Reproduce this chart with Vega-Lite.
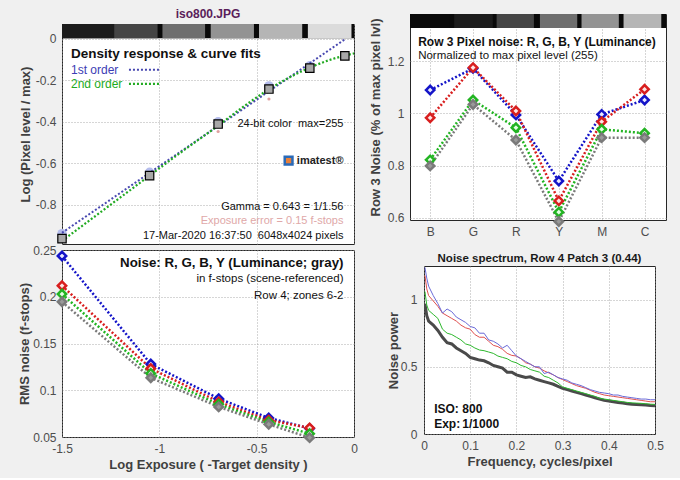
{
  "$schema": "https://vega.github.io/schema/vega-lite/v6.json",
  "background": "#f0f0f0",
  "padding": {"left": 18, "top": 7, "right": 14, "bottom": 6},
  "config": {
    "font": "Liberation Sans",
    "view": {"fill": "white", "stroke": "#262626", "strokeWidth": 1},
    "axis": {"domain": false, "ticks": false, "labelFont": "Liberation Sans", "labelFontSize": 12, "labelColor": "#4d4d4d", "labelPadding": 6, "labelFlush": false, "labelOverlap": false, "titleFont": "Liberation Sans", "titleFontSize": 13, "titleFontWeight": "bold", "titleColor": "#404040", "grid": true, "gridColor": "#9a9a9a", "gridDash": [1, 2], "gridOpacity": 0.8},
    "title": {"font": "Liberation Sans", "fontWeight": "bold", "fontSize": 12, "color": "#1a1a1a"},
    "text": {"font": "Liberation Sans"}
  },
  "datasets": {
    "strip": [
      {"x": -1.5, "x2": 0, "y": 0.003, "y2": 0.072, "p": "bg"},
      {"x": -1.5, "x2": -1.232, "y": 0.003, "y2": 0.072, "p": "p1"},
      {"x": -1.232, "x2": -1.009, "y": 0.003, "y2": 0.072, "p": "p2"},
      {"x": -0.984, "x2": -0.765, "y": 0.003, "y2": 0.072, "p": "p3"},
      {"x": -0.736, "x2": -0.514, "y": 0.003, "y2": 0.072, "p": "p4"},
      {"x": -0.488, "x2": -0.266, "y": 0.003, "y2": 0.072, "p": "p5"},
      {"x": -0.237, "x2": -0.013, "y": 0.003, "y2": 0.072, "p": "p6"}
    ],
    "squares": [
      {"x": -1.5, "y": -0.964}, {"x": -1.05, "y": -0.66}, {"x": -0.698, "y": -0.411},
      {"x": -0.437, "y": -0.242}, {"x": -0.227, "y": -0.141}, {"x": -0.047, "y": -0.082}
    ],
    "circles": [
      {"x": -1.5, "y": -0.94}, {"x": -1.05, "y": -0.644}, {"x": -0.698, "y": -0.4},
      {"x": -0.437, "y": -0.227}, {"x": -0.227, "y": -0.13}
    ],
    "pinks": [{"x": -0.698, "y": -0.447}, {"x": -0.437, "y": -0.29}],
    "fit1": [{"x": -1.5, "y": -0.936}, {"x": -0.044, "y": 0.0}],
    "fit2": [
      {"x": -1.5, "y": -0.975}, {"x": -1.3, "y": -0.835}, {"x": -1.1, "y": -0.695}, {"x": -0.9, "y": -0.555},
      {"x": -0.7, "y": -0.42}, {"x": -0.55, "y": -0.315}, {"x": -0.44, "y": -0.245}, {"x": -0.33, "y": -0.185},
      {"x": -0.23, "y": -0.14}, {"x": -0.12, "y": -0.1}, {"x": 0, "y": -0.07}
    ],
    "bl": [
      {"ch": "B", "x": -1.5, "v": 0.2436}, {"ch": "B", "x": -1.044, "v": 0.128}, {"ch": "B", "x": -0.695, "v": 0.091}, {"ch": "B", "x": -0.438, "v": 0.0704}, {"ch": "B", "x": -0.228, "v": 0.059},
      {"ch": "R", "x": -1.5, "v": 0.2118}, {"ch": "R", "x": -1.044, "v": 0.1233}, {"ch": "R", "x": -0.695, "v": 0.0876}, {"ch": "R", "x": -0.438, "v": 0.068}, {"ch": "R", "x": -0.228, "v": 0.0597},
      {"ch": "G", "x": -1.5, "v": 0.2029}, {"ch": "G", "x": -1.044, "v": 0.118}, {"ch": "G", "x": -0.695, "v": 0.085}, {"ch": "G", "x": -0.438, "v": 0.066}, {"ch": "G", "x": -0.228, "v": 0.0536},
      {"ch": "Y", "x": -1.5, "v": 0.1946}, {"ch": "Y", "x": -1.044, "v": 0.1133}, {"ch": "Y", "x": -0.695, "v": 0.0822}, {"ch": "Y", "x": -0.438, "v": 0.0636}, {"ch": "Y", "x": -0.228, "v": 0.0493}
    ],
    "tr": [
      {"ch": "B", "i": 1, "v": 1.089}, {"ch": "B", "i": 2, "v": 1.172}, {"ch": "B", "i": 3, "v": 0.994}, {"ch": "B", "i": 4, "v": 0.741}, {"ch": "B", "i": 5, "v": 0.996}, {"ch": "B", "i": 6, "v": 1.051},
      {"ch": "R", "i": 1, "v": 0.983}, {"ch": "R", "i": 2, "v": 1.175}, {"ch": "R", "i": 3, "v": 1.009}, {"ch": "R", "i": 4, "v": 0.665}, {"ch": "R", "i": 5, "v": 0.968}, {"ch": "R", "i": 6, "v": 1.092},
      {"ch": "G", "i": 1, "v": 0.822}, {"ch": "G", "i": 2, "v": 1.051}, {"ch": "G", "i": 3, "v": 0.945}, {"ch": "G", "i": 4, "v": 0.622}, {"ch": "G", "i": 5, "v": 0.939}, {"ch": "G", "i": 6, "v": 0.924},
      {"ch": "Y", "i": 1, "v": 0.799}, {"ch": "Y", "i": 2, "v": 1.034}, {"ch": "Y", "i": 3, "v": 0.898}, {"ch": "Y", "i": 4, "v": 0.586}, {"ch": "Y", "i": 5, "v": 0.907}, {"ch": "Y", "i": 6, "v": 0.907}
    ],
    "trstrip": [
      {"i": 0.53, "i2": 6.5, "v": 1.326, "v2": 1.38, "p": "bg"},
      {"i": 0.55, "i2": 1.45, "v": 1.326, "v2": 1.38, "p": "B"}, {"i": 1.56, "i2": 2.46, "v": 1.326, "v2": 1.38, "p": "G"}, {"i": 2.55, "i2": 3.42, "v": 1.326, "v2": 1.38, "p": "R"},
      {"i": 3.56, "i2": 4.43, "v": 1.326, "v2": 1.38, "p": "Y"}, {"i": 4.53, "i2": 5.4, "v": 1.326, "v2": 1.38, "p": "M"}, {"i": 5.51, "i2": 6.39, "v": 1.326, "v2": 1.38, "p": "C"}
    ],
    "spec": [
      {"s": "K", "f": 0.002, "p": 0.97}, {"s": "K", "f": 0.006, "p": 0.88}, {"s": "K", "f": 0.01, "p": 0.84}, {"s": "K", "f": 0.02, "p": 0.81}, {"s": "K", "f": 0.03, "p": 0.77}, {"s": "K", "f": 0.04, "p": 0.72}, {"s": "K", "f": 0.05, "p": 0.68}, {"s": "K", "f": 0.06, "p": 0.67}, {"s": "K", "f": 0.07, "p": 0.64}, {"s": "K", "f": 0.08, "p": 0.62}, {"s": "K", "f": 0.09, "p": 0.6}, {"s": "K", "f": 0.1, "p": 0.57}, {"s": "K", "f": 0.11, "p": 0.56}, {"s": "K", "f": 0.12, "p": 0.55}, {"s": "K", "f": 0.13, "p": 0.545}, {"s": "K", "f": 0.14, "p": 0.53}, {"s": "K", "f": 0.15, "p": 0.51}, {"s": "K", "f": 0.16, "p": 0.5}, {"s": "K", "f": 0.17, "p": 0.49}, {"s": "K", "f": 0.18, "p": 0.46}, {"s": "K", "f": 0.19, "p": 0.46}, {"s": "K", "f": 0.2, "p": 0.44}, {"s": "K", "f": 0.21, "p": 0.43}, {"s": "K", "f": 0.22, "p": 0.42}, {"s": "K", "f": 0.23, "p": 0.425}, {"s": "K", "f": 0.24, "p": 0.41}, {"s": "K", "f": 0.25, "p": 0.4}, {"s": "K", "f": 0.26, "p": 0.39}, {"s": "K", "f": 0.27, "p": 0.38}, {"s": "K", "f": 0.28, "p": 0.37}, {"s": "K", "f": 0.29, "p": 0.355}, {"s": "K", "f": 0.3, "p": 0.34}, {"s": "K", "f": 0.31, "p": 0.33}, {"s": "K", "f": 0.32, "p": 0.32}, {"s": "K", "f": 0.33, "p": 0.31}, {"s": "K", "f": 0.34, "p": 0.3}, {"s": "K", "f": 0.35, "p": 0.29}, {"s": "K", "f": 0.36, "p": 0.28}, {"s": "K", "f": 0.37, "p": 0.27}, {"s": "K", "f": 0.38, "p": 0.26}, {"s": "K", "f": 0.39, "p": 0.25}, {"s": "K", "f": 0.4, "p": 0.245}, {"s": "K", "f": 0.41, "p": 0.24}, {"s": "K", "f": 0.42, "p": 0.235}, {"s": "K", "f": 0.43, "p": 0.23}, {"s": "K", "f": 0.44, "p": 0.225}, {"s": "K", "f": 0.45, "p": 0.222}, {"s": "K", "f": 0.46, "p": 0.22}, {"s": "K", "f": 0.47, "p": 0.218}, {"s": "K", "f": 0.48, "p": 0.215}, {"s": "K", "f": 0.49, "p": 0.212}, {"s": "K", "f": 0.5, "p": 0.21},
      {"s": "G", "f": 0.002, "p": 1.06}, {"s": "G", "f": 0.006, "p": 0.96}, {"s": "G", "f": 0.01, "p": 0.92}, {"s": "G", "f": 0.02, "p": 0.89}, {"s": "G", "f": 0.03, "p": 0.86}, {"s": "G", "f": 0.04, "p": 0.78}, {"s": "G", "f": 0.05, "p": 0.75}, {"s": "G", "f": 0.06, "p": 0.74}, {"s": "G", "f": 0.07, "p": 0.72}, {"s": "G", "f": 0.08, "p": 0.7}, {"s": "G", "f": 0.09, "p": 0.67}, {"s": "G", "f": 0.1, "p": 0.66}, {"s": "G", "f": 0.11, "p": 0.64}, {"s": "G", "f": 0.12, "p": 0.625}, {"s": "G", "f": 0.13, "p": 0.62}, {"s": "G", "f": 0.14, "p": 0.61}, {"s": "G", "f": 0.15, "p": 0.6}, {"s": "G", "f": 0.16, "p": 0.58}, {"s": "G", "f": 0.17, "p": 0.57}, {"s": "G", "f": 0.18, "p": 0.56}, {"s": "G", "f": 0.19, "p": 0.54}, {"s": "G", "f": 0.2, "p": 0.53}, {"s": "G", "f": 0.21, "p": 0.51}, {"s": "G", "f": 0.22, "p": 0.5}, {"s": "G", "f": 0.23, "p": 0.48}, {"s": "G", "f": 0.24, "p": 0.47}, {"s": "G", "f": 0.25, "p": 0.46}, {"s": "G", "f": 0.26, "p": 0.43}, {"s": "G", "f": 0.27, "p": 0.42}, {"s": "G", "f": 0.28, "p": 0.4}, {"s": "G", "f": 0.29, "p": 0.38}, {"s": "G", "f": 0.3, "p": 0.35}, {"s": "G", "f": 0.31, "p": 0.34}, {"s": "G", "f": 0.32, "p": 0.33}, {"s": "G", "f": 0.33, "p": 0.32}, {"s": "G", "f": 0.34, "p": 0.31}, {"s": "G", "f": 0.35, "p": 0.3}, {"s": "G", "f": 0.36, "p": 0.29}, {"s": "G", "f": 0.37, "p": 0.28}, {"s": "G", "f": 0.38, "p": 0.265}, {"s": "G", "f": 0.39, "p": 0.26}, {"s": "G", "f": 0.4, "p": 0.255}, {"s": "G", "f": 0.41, "p": 0.25}, {"s": "G", "f": 0.42, "p": 0.245}, {"s": "G", "f": 0.43, "p": 0.24}, {"s": "G", "f": 0.44, "p": 0.235}, {"s": "G", "f": 0.45, "p": 0.232}, {"s": "G", "f": 0.46, "p": 0.23}, {"s": "G", "f": 0.47, "p": 0.228}, {"s": "G", "f": 0.48, "p": 0.225}, {"s": "G", "f": 0.49, "p": 0.222}, {"s": "G", "f": 0.5, "p": 0.22},
      {"s": "R", "f": 0.002, "p": 1.18}, {"s": "R", "f": 0.006, "p": 1.08}, {"s": "R", "f": 0.01, "p": 1.03}, {"s": "R", "f": 0.02, "p": 0.99}, {"s": "R", "f": 0.03, "p": 0.95}, {"s": "R", "f": 0.04, "p": 0.9}, {"s": "R", "f": 0.05, "p": 0.88}, {"s": "R", "f": 0.06, "p": 0.86}, {"s": "R", "f": 0.07, "p": 0.84}, {"s": "R", "f": 0.08, "p": 0.81}, {"s": "R", "f": 0.09, "p": 0.79}, {"s": "R", "f": 0.1, "p": 0.78}, {"s": "R", "f": 0.11, "p": 0.74}, {"s": "R", "f": 0.12, "p": 0.72}, {"s": "R", "f": 0.13, "p": 0.72}, {"s": "R", "f": 0.14, "p": 0.69}, {"s": "R", "f": 0.15, "p": 0.66}, {"s": "R", "f": 0.16, "p": 0.65}, {"s": "R", "f": 0.17, "p": 0.63}, {"s": "R", "f": 0.18, "p": 0.6}, {"s": "R", "f": 0.19, "p": 0.585}, {"s": "R", "f": 0.2, "p": 0.58}, {"s": "R", "f": 0.21, "p": 0.56}, {"s": "R", "f": 0.22, "p": 0.53}, {"s": "R", "f": 0.23, "p": 0.52}, {"s": "R", "f": 0.24, "p": 0.5}, {"s": "R", "f": 0.25, "p": 0.49}, {"s": "R", "f": 0.26, "p": 0.47}, {"s": "R", "f": 0.27, "p": 0.455}, {"s": "R", "f": 0.28, "p": 0.44}, {"s": "R", "f": 0.29, "p": 0.42}, {"s": "R", "f": 0.3, "p": 0.405}, {"s": "R", "f": 0.31, "p": 0.39}, {"s": "R", "f": 0.32, "p": 0.375}, {"s": "R", "f": 0.33, "p": 0.36}, {"s": "R", "f": 0.34, "p": 0.35}, {"s": "R", "f": 0.35, "p": 0.34}, {"s": "R", "f": 0.36, "p": 0.325}, {"s": "R", "f": 0.37, "p": 0.31}, {"s": "R", "f": 0.38, "p": 0.3}, {"s": "R", "f": 0.39, "p": 0.29}, {"s": "R", "f": 0.4, "p": 0.285}, {"s": "R", "f": 0.41, "p": 0.28}, {"s": "R", "f": 0.42, "p": 0.275}, {"s": "R", "f": 0.43, "p": 0.27}, {"s": "R", "f": 0.44, "p": 0.265}, {"s": "R", "f": 0.45, "p": 0.26}, {"s": "R", "f": 0.46, "p": 0.255}, {"s": "R", "f": 0.47, "p": 0.25}, {"s": "R", "f": 0.48, "p": 0.245}, {"s": "R", "f": 0.49, "p": 0.24}, {"s": "R", "f": 0.5, "p": 0.24},
      {"s": "B", "f": 0.002, "p": 1.24}, {"s": "B", "f": 0.006, "p": 1.16}, {"s": "B", "f": 0.01, "p": 1.1}, {"s": "B", "f": 0.02, "p": 1.03}, {"s": "B", "f": 0.03, "p": 0.97}, {"s": "B", "f": 0.04, "p": 0.9}, {"s": "B", "f": 0.05, "p": 0.93}, {"s": "B", "f": 0.06, "p": 0.91}, {"s": "B", "f": 0.07, "p": 0.87}, {"s": "B", "f": 0.08, "p": 0.85}, {"s": "B", "f": 0.09, "p": 0.83}, {"s": "B", "f": 0.1, "p": 0.8}, {"s": "B", "f": 0.11, "p": 0.79}, {"s": "B", "f": 0.12, "p": 0.75}, {"s": "B", "f": 0.13, "p": 0.75}, {"s": "B", "f": 0.14, "p": 0.7}, {"s": "B", "f": 0.15, "p": 0.69}, {"s": "B", "f": 0.16, "p": 0.67}, {"s": "B", "f": 0.17, "p": 0.64}, {"s": "B", "f": 0.18, "p": 0.66}, {"s": "B", "f": 0.19, "p": 0.62}, {"s": "B", "f": 0.2, "p": 0.58}, {"s": "B", "f": 0.21, "p": 0.56}, {"s": "B", "f": 0.22, "p": 0.54}, {"s": "B", "f": 0.23, "p": 0.52}, {"s": "B", "f": 0.24, "p": 0.5}, {"s": "B", "f": 0.25, "p": 0.5}, {"s": "B", "f": 0.26, "p": 0.45}, {"s": "B", "f": 0.27, "p": 0.46}, {"s": "B", "f": 0.28, "p": 0.44}, {"s": "B", "f": 0.29, "p": 0.42}, {"s": "B", "f": 0.3, "p": 0.41}, {"s": "B", "f": 0.31, "p": 0.4}, {"s": "B", "f": 0.32, "p": 0.38}, {"s": "B", "f": 0.33, "p": 0.37}, {"s": "B", "f": 0.34, "p": 0.36}, {"s": "B", "f": 0.35, "p": 0.345}, {"s": "B", "f": 0.36, "p": 0.33}, {"s": "B", "f": 0.37, "p": 0.32}, {"s": "B", "f": 0.38, "p": 0.31}, {"s": "B", "f": 0.39, "p": 0.305}, {"s": "B", "f": 0.4, "p": 0.3}, {"s": "B", "f": 0.41, "p": 0.29}, {"s": "B", "f": 0.42, "p": 0.29}, {"s": "B", "f": 0.43, "p": 0.28}, {"s": "B", "f": 0.44, "p": 0.275}, {"s": "B", "f": 0.45, "p": 0.27}, {"s": "B", "f": 0.46, "p": 0.265}, {"s": "B", "f": 0.47, "p": 0.26}, {"s": "B", "f": 0.48, "p": 0.26}, {"s": "B", "f": 0.49, "p": 0.255}, {"s": "B", "f": 0.5, "p": 0.255}
    ]
  },
  "spacing": 9,
  "hconcat": [
    {
      "bounds": "flush",
      "spacing": 9,
      "vconcat": [
        {"data": {"values": [{}]}, "mark": {"type": "point", "opacity": 0, "size": 1}, "width": 1, "height": 1, "view": {"stroke": null, "fill": null}},
        {
          "bounds": "flush",
          "spacing": 6,
          "vconcat": [
            {
              "width": 292,
              "height": 220,
              "title": {"text": "iso800.JPG", "fontSize": 12, "offset": 3, "color": "#5a1e5a"},
              "encoding": {
                "x": {"field": "x", "type": "quantitative", "scale": {"domain": [-1.5, 0], "nice": false, "zero": false}, "axis": {"values": [-1.5, -1, -0.5, 0], "labels": false, "title": null}},
                "y": {"field": "y", "type": "quantitative", "scale": {"domain": [-0.99, 0.072], "nice": false, "zero": false}, "axis": {"values": [0, -0.2, -0.4, -0.6, -0.8], "labelExpr": "datum.value + ''", "title": "Log (Pixel level / max)", "titlePadding": 3}}
              },
              "layer": [
                {
                  "data": {"name": "strip"},
                  "mark": {"type": "rect"},
                  "encoding": {
                    "x2": {"field": "x2"},
                    "y2": {"field": "y2"},
                    "color": {"field": "p", "type": "nominal", "legend": null, "scale": {"domain": ["bg", "p1", "p2", "p3", "p4", "p5", "p6"], "range": ["#0a0a0a", "#1c1c1c", "#454545", "#6e6e6e", "#939393", "#b5b5b5", "#dbdbdb"]}}
                  }
                },
                {"data": {"name": "circles"}, "mark": {"type": "point", "shape": "circle", "filled": true, "size": 90, "color": "#b4bcec", "opacity": 1}},
                {"data": {"name": "pinks"}, "mark": {"type": "point", "shape": "circle", "filled": true, "size": 10, "color": "#e0a0a0", "opacity": 1}},
                {"data": {"name": "fit1"}, "mark": {"type": "line", "color": "#4848b0", "strokeWidth": 2, "strokeDash": [2, 2]}},
                {"data": {"name": "fit2"}, "mark": {"type": "line", "color": "#22aa22", "strokeWidth": 2.2, "strokeDash": [2, 2], "interpolate": "monotone"}},
                {"data": {"name": "squares"}, "mark": {"type": "point", "shape": "square", "size": 70, "fill": "#a8a8a8", "stroke": "#000000", "strokeWidth": 1.2, "opacity": 1, "fillOpacity": 1}},
                {"data": {"values": [{"x": -1.156, "y": -0.149}, {"x": -0.992, "y": -0.149}]}, "mark": {"type": "line", "color": "#4848b0", "strokeWidth": 2, "strokeDash": [2, 2]}},
                {"data": {"values": [{"x": -1.156, "y": -0.217}, {"x": -0.992, "y": -0.217}]}, "mark": {"type": "line", "color": "#22aa22", "strokeWidth": 2.2, "strokeDash": [2, 2]}},
                {"data": {"values": [{"x": -1.454, "y": -0.072, "t": "Density response & curve fits"}]}, "mark": {"type": "text", "align": "left", "baseline": "middle", "fontSize": 13.5, "fontWeight": "bold", "color": "#111111"}, "encoding": {"text": {"field": "t"}}},
                {"data": {"values": [{"x": -1.454, "y": -0.149, "t": "1st order"}]}, "mark": {"type": "text", "align": "left", "baseline": "middle", "fontSize": 12, "color": "#3c3cb4"}, "encoding": {"text": {"field": "t"}}},
                {"data": {"values": [{"x": -1.454, "y": -0.217, "t": "2nd order"}]}, "mark": {"type": "text", "align": "left", "baseline": "middle", "fontSize": 12, "color": "#22aa22"}, "encoding": {"text": {"field": "t"}}},
                {"data": {"values": [
                  {"x": -0.054, "y": -0.41, "t": "24-bit color \u00a0max=255"},
                  {"x": -0.054, "y": -0.81, "t": "Gamma = 0.643 = 1/1.56"},
                  {"x": -0.054, "y": -0.949, "t": "17-Mar-2020 16:37:50 \u00a06048x4024 pixels"}
                ]}, "mark": {"type": "text", "align": "right", "baseline": "middle", "fontSize": 11, "color": "#111111"}, "encoding": {"text": {"field": "t"}}},
                {"data": {"values": [{"x": -0.054, "y": -0.877, "t": "Exposure error = 0.15 f-stops"}]}, "mark": {"type": "text", "align": "right", "baseline": "middle", "fontSize": 11, "color": "#e0a8a8"}, "encoding": {"text": {"field": "t"}}},
                {"data": {"values": [{"x": -0.054, "y": -0.588, "t": "imatest®"}]}, "mark": {"type": "text", "align": "right", "baseline": "middle", "fontSize": 11, "fontWeight": "bold", "color": "#222222"}, "encoding": {"text": {"field": "t"}}},
                {"data": {"values": [{"x": -0.336, "y": -0.588}]}, "mark": {"type": "point", "shape": "square", "size": 60, "fill": "#e8803a", "stroke": "#2a6ab8", "strokeWidth": 2.5, "opacity": 1, "fillOpacity": 1}}
              ]
            },
            {
              "width": 292,
              "height": 187,
              "encoding": {
                "x": {"field": "x", "type": "quantitative", "scale": {"domain": [-1.5, 0], "nice": false, "zero": false}, "axis": {"values": [-1.5, -1, -0.5, 0], "labelExpr": "datum.value + ''", "title": "Log Exposure ( -Target density )", "labelPadding": 6, "titlePadding": 4}},
                "y": {"field": "v", "type": "quantitative", "scale": {"domain": [0.05, 0.25], "nice": false, "zero": false}, "axis": {"values": [0.05, 0.1, 0.15, 0.2, 0.25], "labelExpr": "datum.value + ''", "title": "RMS noise (f-stops)", "titlePadding": 1}}
              },
              "layer": [
                {"data": {"name": "bl"}, "mark": {"type": "line", "strokeWidth": 2.5, "strokeDash": [2, 2]}, "encoding": {"stroke": {"field": "ch", "type": "nominal", "legend": null, "scale": {"domain": ["B", "R", "G", "Y"], "range": ["#1414c8", "#d81e1e", "#22b422", "#7a7a7a"]}}}},
                {"data": {"name": "bl"}, "mark": {"type": "point", "shape": "diamond", "size": 70, "strokeWidth": 2.5, "opacity": 1, "fillOpacity": 1}, "encoding": {
                  "stroke": {"field": "ch", "type": "nominal", "legend": null},
                  "fill": {"field": "ch", "type": "nominal", "legend": null, "scale": {"domain": ["B", "R", "G", "Y"], "range": ["#e8e8ff", "#ffe4e4", "#e4ffe4", "#9a9a9a"]}}
                }},
                {"data": {"values": [{"x": -0.054, "v": 0.236, "t": "Noise: R, G, B, Y (Luminance; gray)"}]}, "mark": {"type": "text", "align": "right", "baseline": "middle", "fontSize": 13.3, "fontWeight": "bold", "color": "#111111"}, "encoding": {"text": {"field": "t"}}},
                {"data": {"values": [{"x": -0.054, "v": 0.219, "t": "in f-stops (scene-referenced)"}, {"x": -0.054, "v": 0.201, "t": "Row 4; zones 6-2"}]}, "mark": {"type": "text", "align": "right", "baseline": "middle", "fontSize": 11.5, "color": "#111111"}, "encoding": {"text": {"field": "t"}}}
              ]
            }
          ]
        }
      ]
    },
    {
      "spacing": 14,
      "vconcat": [
        {
          "width": 256,
          "height": 206,
          "encoding": {
            "x": {"field": "i", "type": "quantitative", "scale": {"domain": [0.53, 6.5], "nice": false, "zero": false}, "axis": {"values": [1, 2, 3, 4, 5, 6], "labelExpr": "['', 'B', 'G', 'R', 'Y', 'M', 'C'][datum.value]", "title": null, "labelPadding": 6}},
            "y": {"field": "v", "type": "quantitative", "scale": {"domain": [0.592, 1.38], "nice": false, "zero": false}, "axis": {"values": [0.6, 0.8, 1, 1.2], "labelExpr": "datum.value + ''", "title": "Row 3 Noise (% of max pixel lvl)", "titlePadding": 5}}
          },
          "layer": [
            {"data": {"name": "trstrip"}, "mark": {"type": "rect"}, "encoding": {
              "x2": {"field": "i2"},
              "y2": {"field": "v2"},
              "color": {"field": "p", "type": "nominal", "legend": null, "scale": {"domain": ["bg", "B", "G", "R", "Y", "M", "C"], "range": ["#0a0a0a", "#1c2a8a", "#3a8a3a", "#c02a2e", "#e0b43a", "#c95aa6", "#3a82ba"]}}
            }},
            {"data": {"name": "tr"}, "mark": {"type": "line", "strokeWidth": 2.5, "strokeDash": [2, 2]}, "encoding": {"stroke": {"field": "ch", "type": "nominal", "legend": null, "scale": {"domain": ["B", "R", "G", "Y"], "range": ["#1414c8", "#d81e1e", "#22b422", "#7a7a7a"]}}}},
            {"data": {"name": "tr"}, "mark": {"type": "point", "shape": "diamond", "size": 70, "strokeWidth": 2.5, "opacity": 1, "fillOpacity": 1}, "encoding": {
              "stroke": {"field": "ch", "type": "nominal", "legend": null},
              "fill": {"field": "ch", "type": "nominal", "legend": null, "scale": {"domain": ["B", "R", "G", "Y"], "range": ["#e8e8ff", "#ffe4e4", "#e4ffe4", "#9a9a9a"]}}
            }},
            {"data": {"values": [{"i": 0.72, "v": 1.273, "t": "Row 3 Pixel noise: R, G, B, Y (Luminance)"}]}, "mark": {"type": "text", "align": "left", "baseline": "middle", "fontSize": 12, "fontWeight": "bold", "color": "#111111"}, "encoding": {"text": {"field": "t"}}},
            {"data": {"values": [{"i": 0.72, "v": 1.219, "t": "Normalized to max pixel level (255)"}]}, "mark": {"type": "text", "align": "left", "baseline": "middle", "fontSize": 11.5, "color": "#111111"}, "encoding": {"text": {"field": "t"}}}
          ]
        },
        {
          "spacing": -25,
          "hconcat": [
            {"data": {"values": [{}]}, "mark": {"type": "point", "opacity": 0, "size": 1}, "width": 1, "height": 1, "view": {"stroke": null, "fill": null}},
            {
              "width": 231,
              "height": 168,
              "title": {"text": "Noise spectrum, Row 4 Patch 3 (0.44)", "fontSize": 11.5, "offset": 2},
              "encoding": {
                "x": {"field": "f", "type": "quantitative", "scale": {"domain": [0, 0.5], "nice": false, "zero": false}, "axis": {"values": [0, 0.1, 0.2, 0.3, 0.4, 0.5], "labelExpr": "datum.value + ''", "title": "Frequency, cycles/pixel", "labelPadding": 6, "titlePadding": 4}},
                "y": {"field": "p", "type": "quantitative", "scale": {"domain": [0, 1.25], "nice": false, "zero": false}, "axis": {"values": [0, 0.5, 1], "labelExpr": "datum.value + ''", "title": "Noise power", "labelPadding": 7, "titlePadding": 0}}
              },
              "layer": [
                {"data": {"name": "spec"}, "transform": [{"filter": "datum.s == 'K'"}], "mark": {"type": "line", "color": "#4a4a4a", "strokeWidth": 3, "clip": true}},
                {"data": {"name": "spec"}, "transform": [{"filter": "datum.s == 'G'"}], "mark": {"type": "line", "color": "#2eb82e", "strokeWidth": 1, "clip": true}},
                {"data": {"name": "spec"}, "transform": [{"filter": "datum.s == 'R'"}], "mark": {"type": "line", "color": "#e05050", "strokeWidth": 1, "clip": true}},
                {"data": {"name": "spec"}, "transform": [{"filter": "datum.s == 'B'"}], "mark": {"type": "line", "color": "#6a6ad8", "strokeWidth": 1, "clip": true}},
                {"data": {"values": [{"f": 0.022, "p": 0.184, "t": "ISO:"}, {"f": 0.083, "p": 0.184, "t": "800"}, {"f": 0.022, "p": 0.072, "t": "Exp:"}, {"f": 0.083, "p": 0.072, "t": "1/1000"}]}, "mark": {"type": "text", "align": "left", "baseline": "middle", "fontSize": 12, "fontWeight": "bold", "color": "#111111"}, "encoding": {"text": {"field": "t"}}}
              ]
            }
          ]
        }
      ]
    }
  ]
}
